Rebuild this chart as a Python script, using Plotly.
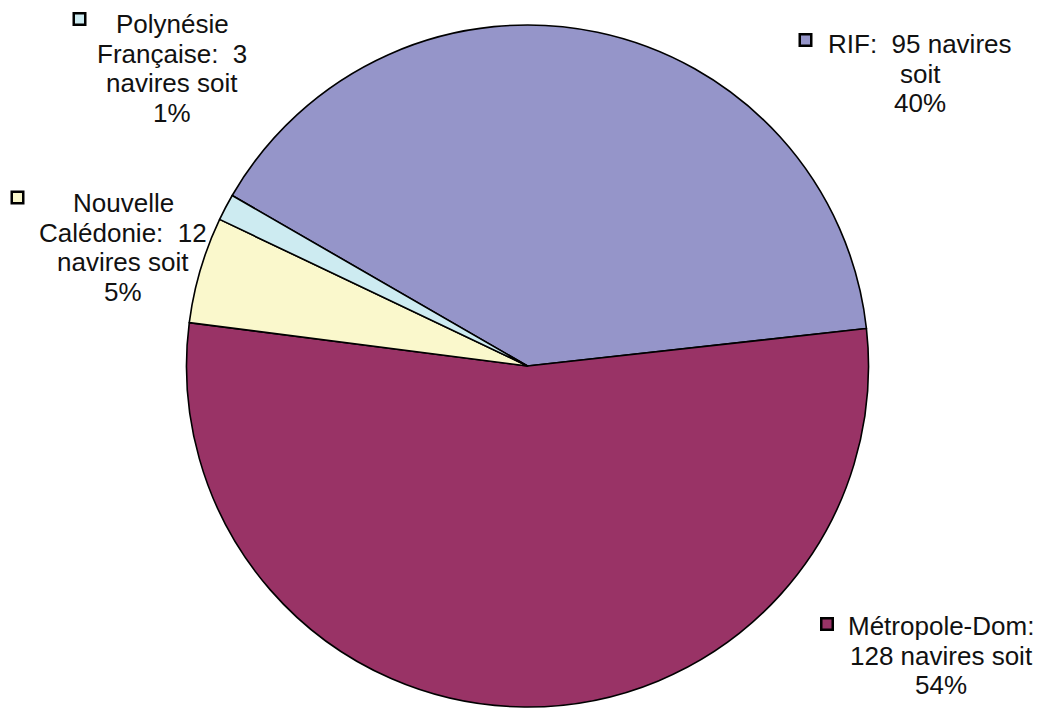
import plotly.graph_objects as go

# ---- data ----
categories = ["RIF", "Métropole-Dom", "Nouvelle Calédonie", "Polynésie Française"]
values = [95, 128, 12, 3]
colors = ["#9595C9", "#993366", "#FAF8CC", "#CDEBF1"]
label_lines = [
    ["RIF:\u00a0 95 navires", "soit", "40%"],
    ["Métropole-Dom:", "128 navires soit", "54%"],
    ["Nouvelle", "Calédonie:\u00a0 12", "navires soit", "5%"],
    ["Polynésie", "Française:\u00a0 3", "navires soit", "1%"],
]

# ---- layout helpers (page pixel positions; page has an 8px body margin) ----
PAGE_OFF = 8
W, H = 1042 - PAGE_OFF, 710 - PAGE_OFF
label_center_x = [920, 941, 123, 172]
label_first_baseline = [53, 635, 212, 33]
line_step = 29.7
key_center = [(805.5, 40), (827, 624), (17.5, 197.5), (79.5, 19)]
key_size = 11.5
font_size = 26

cx, cy, r = 527.5, 366, 341


def px(x):
    return (x - PAGE_OFF) / W


def py(y):
    return 1 - (y - PAGE_OFF) / H


fig = go.Figure(
    go.Pie(
        labels=categories,
        values=values,
        sort=False,
        direction="clockwise",
        rotation=300,
        marker=dict(colors=colors, line=dict(color="black", width=1.6)),
        textinfo="none",
        hoverinfo="label+value+percent",
        domain=dict(x=[px(cx - r), px(cx + r)], y=[py(cy + r), py(cy - r)]),
        showlegend=False,
    )
)

annotations = []
shapes = []
for i, lines in enumerate(label_lines):
    for j, line in enumerate(lines):
        base = label_first_baseline[i] + j * line_step
        ymid = base - 0.3465 * font_size
        annotations.append(
            dict(
                x=px(label_center_x[i]),
                y=py(ymid),
                xref="paper",
                yref="paper",
                text=line,
                showarrow=False,
                xanchor="center",
                yanchor="middle",
                font=dict(family="Liberation Sans, Arial, sans-serif", size=font_size, color="#111111"),
            )
        )
    kx, ky = key_center[i]
    h = key_size / 2
    shapes.append(
        dict(
            type="rect",
            xref="paper",
            yref="paper",
            x0=px(kx - h),
            x1=px(kx + h),
            y0=py(ky + h),
            y1=py(ky - h),
            fillcolor=colors[i],
            line=dict(color="black", width=2.5),
        )
    )

fig.update_layout(
    width=W,
    height=H,
    margin=dict(l=0, r=0, t=0, b=0),
    paper_bgcolor="white",
    plot_bgcolor="white",
    annotations=annotations,
    shapes=shapes,
)

fig.write_html("out.html")
